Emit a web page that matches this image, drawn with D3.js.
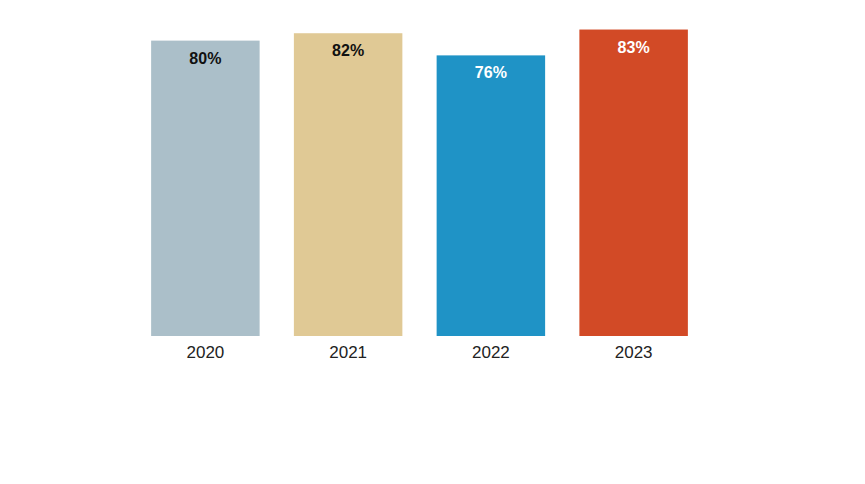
<!DOCTYPE html>
<html>
<head>
<meta charset="utf-8">
<script src="https://d3js.org/d3.v7.min.js"></script>
<style>
  body { margin: 0; background: #fff; }
  #chart { width: 865px; height: 484px; }
  text { font-family: "Liberation Sans", Arial, Helvetica, sans-serif; }
</style>
</head>
<body>
<div id="chart"></div>
<script>
// chart values
let years = ["2020", "2021", "2022", "2023"];
let shares = [80, 82, 76, 83];
let barColors = ["#abbfc9", "#e0c995", "#1f93c6", "#d24a26"];
let labelColors = ["#111", "#111", "#fff", "#fff"];

let width = 865, height = 484;

let svg = d3.select("#chart").append("svg")
    .attr("width", width)
    .attr("height", height);

let x = d3.scaleBand()
    .domain(years)
    .range([134, 705])
    .paddingInner(0.24)
    .paddingOuter(0.12);

// baseline at 336, about 3.69px per point
let y = d3.scaleLinear()
    .domain([0, 91])
    .range([336, 0]);

let data = years.map((d, i) => ({year: d, value: shares[i], color: barColors[i], label: labelColors[i]}));

svg.selectAll(".bar")
    .data(data)
    .enter().append("rect")
    .attr("class", "bar")
    .attr("x", d => x(d.year))
    .attr("y", d => y(d.value))
    .attr("width", x.bandwidth())
    .attr("height", d => y(0) - y(d.value))
    .style("fill", d => d.color);

svg.selectAll(".value")
    .data(data)
    .enter().append("text")
    .attr("class", "value")
    .attr("x", d => x(d.year) + x.bandwidth() / 2)
    .attr("y", d => y(d.value) + 23)
    .attr("text-anchor", "middle")
    .style("font-size", "16px")
    .style("font-weight", "bold")
    .style("fill", d => d.label)
    .text(d => d.value + "%");

// x axis, no line or ticks
let xAxis = svg.append("g")
    .attr("transform", "translate(0," + y(0) + ")")
    .call(d3.axisBottom(x).tickSize(0).tickPadding(10));

xAxis.select(".domain").remove();
xAxis.selectAll("text")
    .style("font-family", "'Liberation Sans', Arial, sans-serif")
    .style("font-size", "17px")
    .style("fill", "#222");
</script>
</body>
</html>
